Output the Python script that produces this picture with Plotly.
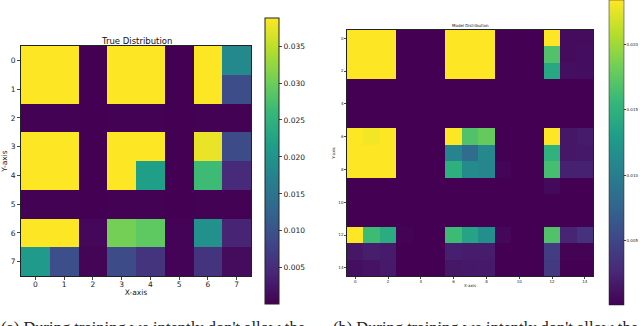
import plotly.graph_objects as go

# left panel: 8x8 true distribution (rows = y, cols = x)
true_dist = [
    [0.0388, 0.0388, 0.0001, 0.0388, 0.0388, 0.0001, 0.0388, 0.0183],
    [0.0388, 0.0388, 0.0001, 0.0388, 0.0388, 0.0001, 0.0388, 0.0092],
    [0.0002, 0.0002, 0.0001, 0.0002, 0.0002, 0.0001, 0.0002, 0.0002],
    [0.0388, 0.0388, 0.0001, 0.0388, 0.0388, 0.0001, 0.0376, 0.0090],
    [0.0388, 0.0388, 0.0001, 0.0388, 0.0218, 0.0001, 0.0265, 0.0048],
    [0.0002, 0.0002, 0.0001, 0.0002, 0.0002, 0.0001, 0.0002, 0.0002],
    [0.0388, 0.0388, 0.0008, 0.0305, 0.0290, 0.0003, 0.0195, 0.0040],
    [0.0210, 0.0095, 0.0005, 0.0090, 0.0060, 0.0003, 0.0060, 0.0013],
]

# right panel: 15x15 learned distribution
model_dist = [
    [0.0234, 0.0234, 0.0234, 0.0001, 0.0001, 0.0001, 0.0234, 0.0234, 0.0234, 0.0001, 0.0001, 0.0001, 0.0234, 0.0008, 0.0008],
    [0.0234, 0.0234, 0.0234, 0.0001, 0.0001, 0.0001, 0.0234, 0.0234, 0.0234, 0.0001, 0.0001, 0.0001, 0.0169, 0.0008, 0.0009],
    [0.0234, 0.0234, 0.0234, 0.0001, 0.0001, 0.0001, 0.0234, 0.0234, 0.0234, 0.0001, 0.0001, 0.0001, 0.0141, 0.0010, 0.0009],
    [0.0001] * 15,
    [0.0001] * 15,
    [0.0001] * 15,
    [0.0234, 0.0230, 0.0234, 0.0001, 0.0001, 0.0001, 0.0234, 0.0169, 0.0178, 0.0001, 0.0001, 0.0001, 0.0234, 0.0015, 0.0018],
    [0.0234, 0.0234, 0.0234, 0.0001, 0.0001, 0.0001, 0.0106, 0.0083, 0.0110, 0.0001, 0.0001, 0.0001, 0.0150, 0.0015, 0.0016],
    [0.0234, 0.0234, 0.0234, 0.0001, 0.0001, 0.0001, 0.0148, 0.0113, 0.0108, 0.0003, 0.0001, 0.0001, 0.0164, 0.0022, 0.0022],
    [0.0001, 0.0001, 0.0001, 0.0001, 0.0001, 0.0001, 0.0001, 0.0001, 0.0001, 0.0001, 0.0001, 0.0001, 0.0006, 0.0001, 0.0001],
    [0.0001] * 15,
    [0.0001] * 15,
    [0.0234, 0.0160, 0.0145, 0.0002, 0.0001, 0.0001, 0.0160, 0.0136, 0.0117, 0.0005, 0.0001, 0.0001, 0.0169, 0.0024, 0.0034],
    [0.0015, 0.0020, 0.0018, 0.0001, 0.0001, 0.0001, 0.0021, 0.0019, 0.0019, 0.0001, 0.0001, 0.0001, 0.0043, 0.0002, 0.0002],
    [0.0010, 0.0012, 0.0017, 0.0001, 0.0001, 0.0001, 0.0015, 0.0016, 0.0017, 0.0001, 0.0001, 0.0001, 0.0040, 0.0001, 0.0001],
]

left_ticks = list(range(8))
right_ticks = list(range(0, 15, 2))
left_cbar_ticks = [0.005, 0.010, 0.015, 0.020, 0.025, 0.030, 0.035]
right_cbar_ticks = [0.005, 0.010, 0.015, 0.020]

titles = ["True Distribution", "Model Distribution"]
captions = ["(a) During training we intently don't allow the",
            "(b) During training we intently don't allow the"]

W, H = 640, 326
FONT = "DejaVu Sans"


def px_x(v):
    return v / W


def px_y(v):
    return 1 - v / H


fig = go.Figure()

fig.add_trace(go.Heatmap(
    z=true_dist, x=left_ticks, y=left_ticks, colorscale="Viridis",
    xaxis="x", yaxis="y",
    colorbar=dict(
        x=px_x(265), xanchor="left", xpad=0, ypad=0,
        y=px_y(304), yanchor="bottom", len=(304 - 18) / H, lenmode="fraction",
        thickness=14, outlinewidth=1, outlinecolor="#222",
        tickvals=left_cbar_ticks, tickformat=".3f", ticks="outside", ticklen=3,
        tickfont=dict(size=7.5, family=FONT, color="#222"),
    ),
))

fig.add_trace(go.Heatmap(
    z=model_dist, x=list(range(15)), y=list(range(15)), colorscale="Viridis",
    xaxis="x2", yaxis="y2",
    colorbar=dict(
        x=px_x(609), xanchor="left", xpad=0, ypad=0,
        y=px_y(305), yanchor="bottom", len=305 / H, lenmode="fraction",
        thickness=15, outlinewidth=0.5, outlinecolor="#222",
        tickvals=right_cbar_ticks, tickformat=".3f", ticks="outside", ticklen=2,
        tickfont=dict(size=4, family=FONT, color="#222"),
    ),
))

axis_common = dict(showline=True, mirror=True, linecolor="#222", ticks="outside",
                   showgrid=False, zeroline=False, automargin=False)

fig.update_layout(
    width=W, height=H,
    margin=dict(l=0, r=0, t=0, b=0, autoexpand=False),
    paper_bgcolor="white", plot_bgcolor="white",
    showlegend=False,
    xaxis=dict(domain=[px_x(21), px_x(251)], anchor="y", tickvals=left_ticks,
               title=dict(text="X-axis", font=dict(size=7.5, family=FONT, color="#222"), standoff=1),
               tickfont=dict(size=7.5, family=FONT, color="#222"), ticklen=3, linewidth=1,
               ticklabelstandoff=-2, **axis_common),
    yaxis=dict(domain=[px_y(276), px_y(46)], anchor="x", tickvals=left_ticks,
               autorange="reversed",
               title=dict(text="Y-axis", font=dict(size=7.5, family=FONT, color="#222"), standoff=2),
               tickfont=dict(size=7.5, family=FONT, color="#222"), ticklen=3, linewidth=1,
               **axis_common),
    xaxis2=dict(domain=[px_x(347), px_x(593)], anchor="y2", tickvals=right_ticks,
                title=dict(text="X-axis", font=dict(size=4, family=FONT, color="#222"), standoff=1),
                tickfont=dict(size=4, family=FONT, color="#222"), ticklen=2, linewidth=0.5,
                ticklabelstandoff=-1, **axis_common),
    yaxis2=dict(domain=[px_y(276), px_y(30)], anchor="x2", tickvals=right_ticks,
                autorange="reversed",
                title=dict(text="Y-axis", font=dict(size=4, family=FONT, color="#222"), standoff=2),
                tickfont=dict(size=4, family=FONT, color="#222"), ticklen=2, linewidth=0.5,
                **axis_common),
    annotations=[
        dict(text=titles[0], x=px_x(136), y=px_y(40.5), xref="paper", yref="paper",
             xanchor="center", yanchor="middle", showarrow=False,
             font=dict(size=8.5, family=FONT, color="#111")),
        dict(text=titles[1], x=px_x(470), y=px_y(26), xref="paper", yref="paper",
             xanchor="center", yanchor="middle", showarrow=False,
             font=dict(size=4, family=FONT, color="#111")),
        dict(text=captions[0], x=px_x(-1), y=px_y(316), xref="paper", yref="paper",
             xanchor="left", yanchor="top", showarrow=False,
             font=dict(size=16.5, family="Liberation Serif", color="#222")),
        dict(text=captions[1], x=px_x(331), y=px_y(316), xref="paper", yref="paper",
             xanchor="left", yanchor="top", showarrow=False,
             font=dict(size=16.5, family="Liberation Serif", color="#222")),
    ],
)

# the page body has a default 8px margin; drop it so the figure sits at 0,0
fig.write_html("out.html", config={"displayModeBar": False},
               post_script="document.body.style.margin='0';")
